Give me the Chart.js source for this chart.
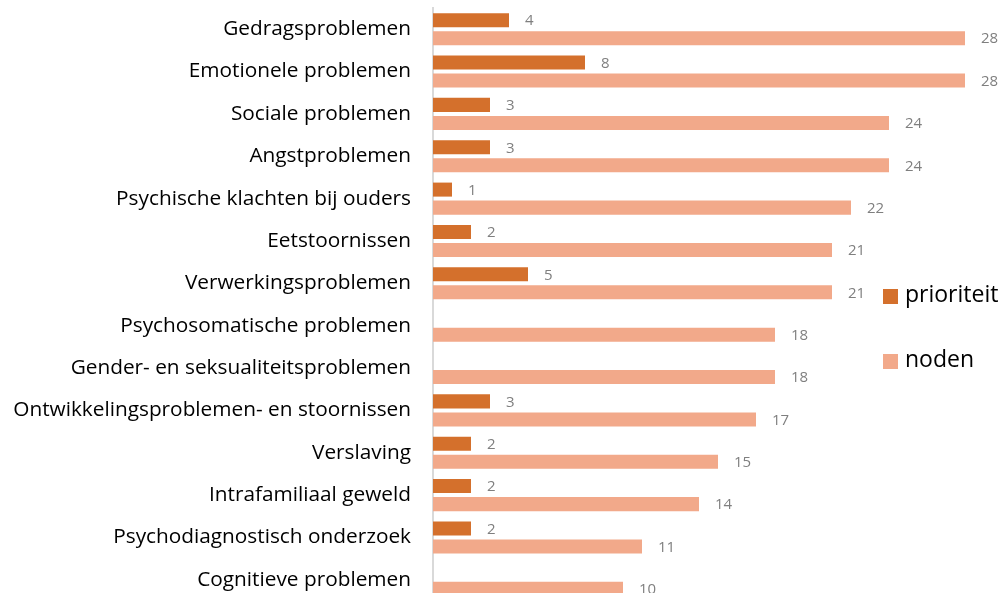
<!DOCTYPE html>
<html>
<head>
<meta charset="utf-8">
<script src="https://cdn.jsdelivr.net/npm/chart.js@4/dist/chart.umd.min.js"></script>
<style>
  html, body { margin: 0; padding: 0; background: #fff; overflow: hidden; }
  #wrap { position: relative; width: 1004px; height: 601px; }
</style>
</head>
<body>
<div id="wrap"><canvas id="chart"></canvas></div>
<script>
const categories = [
  'Gedragsproblemen',
  'Emotionele problemen',
  'Sociale problemen',
  'Angstproblemen',
  'Psychische klachten bij ouders',
  'Eetstoornissen',
  'Verwerkingsproblemen',
  'Psychosomatische problemen',
  'Gender- en seksualiteitsproblemen',
  'Ontwikkelingsproblemen- en stoornissen',
  'Verslaving',
  'Intrafamiliaal geweld',
  'Psychodiagnostisch onderzoek',
  'Cognitieve problemen'
];
const prioriteit = [4, 8, 3, 3, 1, 2, 5, null, null, 3, 2, 2, 2, null];
const noden = [28, 28, 24, 24, 22, 21, 21, 18, 18, 17, 15, 14, 11, 10];

const FONT = '"Open Sans", Lato, sans-serif';

// value labels next to each bar
const valueLabels = {
  id: 'valueLabels',
  afterDatasetsDraw(chart) {
    const ctx = chart.ctx;
    ctx.save();
    ctx.font = '15px ' + FONT;
    ctx.fillStyle = '#7f7f7f';
    ctx.textBaseline = 'middle';
    chart.data.datasets.forEach((ds, i) => {
      chart.getDatasetMeta(i).data.forEach((bar, j) => {
        const v = ds.data[j];
        if (v == null) return;
        ctx.fillText(String(v), bar.x + 16, bar.y + 1);
      });
    });
    ctx.restore();
  }
};

// legend drawn over the right side of the plot, like the original
const sideLegend = {
  id: 'sideLegend',
  afterDraw(chart) {
    const ctx = chart.ctx;
    const ys = [296, 361];
    ctx.save();
    ctx.font = '23px ' + FONT;
    ctx.textBaseline = 'middle';
    chart.data.datasets.forEach((ds, i) => {
      ctx.fillStyle = ds.backgroundColor;
      ctx.fillRect(883, ys[i] - 7, 15, 15);
      ctx.fillStyle = '#000';
      ctx.fillText(ds.label, 905, ys[i] - 1);
    });
    ctx.restore();
  }
};

new Chart(document.getElementById('chart'), {
  type: 'bar',
  data: {
    labels: categories,
    datasets: [
      {
        label: 'prioriteit',
        data: prioriteit,
        backgroundColor: '#d4702c',
        categoryPercentage: 0.851,
        barPercentage: 0.778
      },
      {
        label: 'noden',
        data: noden,
        backgroundColor: '#f2a98a',
        categoryPercentage: 0.851,
        barPercentage: 0.778
      }
    ]
  },
  options: {
    indexAxis: 'y',
    responsive: true,
    maintainAspectRatio: false,
    animation: false,
    layout: { padding: { top: 8, right: 39, left: 0, bottom: 0 } },
    plugins: {
      legend: { display: false },
      tooltip: { enabled: false }
    },
    scales: {
      x: {
        min: 0,
        max: 28,
        display: false
      },
      y: {
        grid: { display: false },
        border: { display: true, color: '#d9d9d9', width: 2 },
        ticks: {
          color: '#000',
          padding: 14,
          font: { family: FONT, size: 20.8 }
        },
        afterFit(scale) {
          scale.width = 433;
          scale.paddingTop = 0;
          scale.paddingBottom = 0;
        }
      }
    }
  },
  plugins: [valueLabels, sideLegend]
});
</script>
</body>
</html>
